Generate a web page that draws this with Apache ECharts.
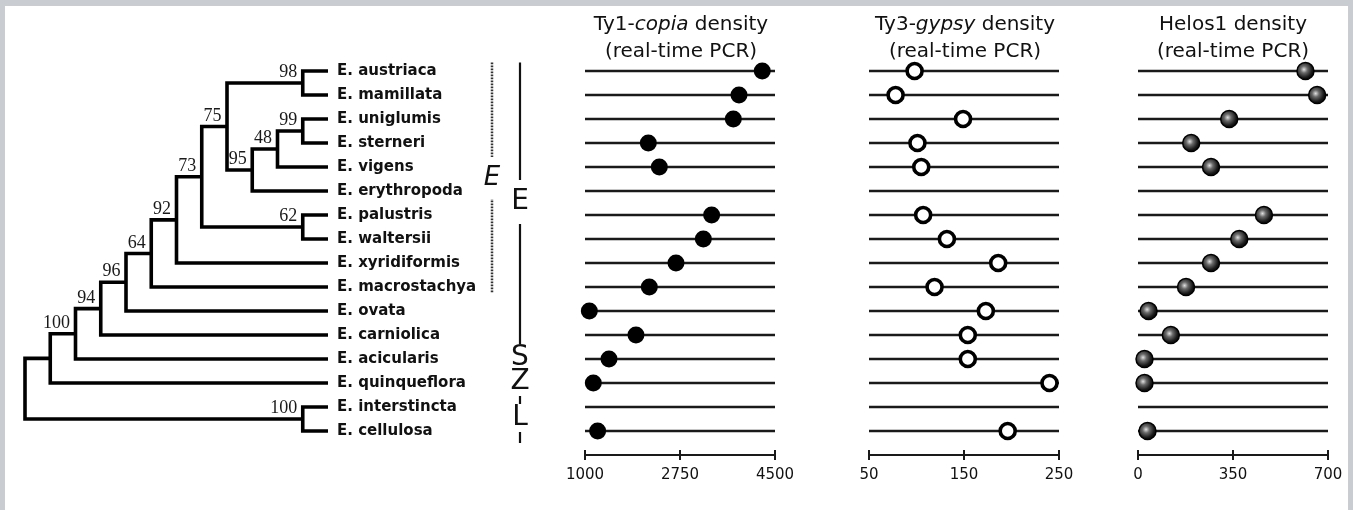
<!DOCTYPE html>
<html><head><meta charset="utf-8">
<script src="https://cdn.jsdelivr.net/npm/echarts@6/dist/echarts.min.js"></script>
<style>html,body{margin:0;padding:0;background:#fff}#c{width:1353px;height:510px}</style>
</head><body><div id="c"></div>
<script>
// ---------------- data ----------------
const species = ['E. austriaca','E. mamillata','E. uniglumis','E. sterneri','E. vigens','E. erythropoda','E. palustris','E. waltersii','E. xyridiformis','E. macrostachya','E. ovata','E. carniolica','E. acicularis','E. quinqueflora','E. interstincta','E. cellulosa'];
const copiaDensity = [4265,3837,3732,2166,2369,null,3333,3180,2676,2185,1080,1939,1442,1153,null,1233];
const gypsyDensity = [98,78,149,101,105,null,107,132,186,119,173,154,154,240,null,196];
const helosDensity = [617,660,336,196,269,null,464,373,269,177,39,121,24,24,null,35];
const copiaTicks = [1000,2750,4500];
const gypsyTicks = [50,150,250];
const helosTicks = [0,350,700];
const treeNewick = '(((((((((' +
  '(E. austriaca,E. mamillata)98,(((E. uniglumis,E. sterneri)99,E. vigens)48,E. erythropoda)95)75' +
  ',(E. palustris,E. waltersii)62)73' +
  ',E. xyridiformis)92' +
  ',E. macrostachya)64' +
  ',E. ovata)96' +
  ',E. carniolica)94' +
  ',E. acicularis)100' +
  ',E. quinqueflora)' +
  ',(E. interstincta,E. cellulosa)100)';
const cladeGroups = [
  {label:'E', from:'E. austriaca', to:'E. carniolica'},
  {label:'S', from:'E. acicularis', to:'E. acicularis'},
  {label:'Z', from:'E. quinqueflora', to:'E. quinqueflora'},
  {label:'L', from:'E. interstincta', to:'E. cellulosa'}
];
const subClade = {label:'E', from:'E. austriaca', to:'E. macrostachya'};

// ---------------- tree layout (topology only) ----------------
function parseNewick(s){
  let i = 0;
  function node(){
    if (s[i] === '('){
      i++;
      const ch = [node()];
      while (s[i] === ','){ i++; ch.push(node()); }
      i++;
      let lab = '';
      while (i < s.length && !',()'.includes(s[i])) lab += s[i++];
      return {children: ch, label: lab};
    }
    let name = '';
    while (i < s.length && !',()'.includes(s[i])) name += s[i++];
    return {name: name};
  }
  return node();
}
const treeRoot = parseNewick(treeNewick);
function calcH(n){ n.h = n.children ? Math.max(...n.children.map(calcH)) + 1 : 0; return n.h; }
const H = calcH(treeRoot);
const internalNodes = [];
function place(n){
  n.x = H - n.h;
  if (n.children){
    n.children.forEach(place);
    n.y = (n.children[0].y + n.children[n.children.length-1].y) / 2;
    internalNodes.push(n);
  } else {
    n.y = species.indexOf(n.name);
  }
}
place(treeRoot);

// ---------------- styling constants ----------------
const TOP = 71, HEIGHT = 360;
const SOLID_X = 520, DOTTED_X = 492;
const INK = '#111';
const SANS = 'DejaVu Sans';

function scatterData(vals){
  return species.map((s,i) => vals[i] == null ? null : [vals[i], s]).filter(Boolean);
}

const chart = echarts.init(document.getElementById('c'), null, {renderer: 'canvas'});

function pyOf(api, f){
  const a = Math.floor(f), b = Math.ceil(f);
  const ya = api.coord([0, a])[1], yb = api.coord([0, b])[1];
  return ya + (yb - ya) * (f - a);
}

function panelY(idx){
  return {
    type: 'category', gridIndex: idx, data: species, inverse: true, boundaryGap: false,
    axisLine: {show: false}, axisTick: {show: false}, axisLabel: {show: false, interval: 0},
    splitLine: {show: true, interval: 0, lineStyle: {color: '#1a1a1a', width: 2.4}}
  };
}
function panelX(grid, min, max, ticks){
  return [{
    type: 'value', gridIndex: grid, min: min, max: max, position: 'bottom', offset: 24,
    axisLine: {show: true, lineStyle: {color: '#1a1a1a', width: 2.2}},
    axisTick: {show: true, customValues: ticks, length: 5, lineStyle: {color: '#1a1a1a', width: 2}},
    axisLabel: {show: true, customValues: ticks, margin: 13, fontFamily: SANS, fontSize: 15, color: INK,
                formatter: v => String(v)},
    splitLine: {show: false}
  }, {
    type: 'value', gridIndex: grid, min: min, max: max, position: 'top', offset: -(HEIGHT + 24),
    axisLine: {show: false},
    axisTick: {show: true, customValues: ticks, length: 5, lineStyle: {color: '#1a1a1a', width: 2}},
    axisLabel: {show: false},
    splitLine: {show: false}
  }];
}
function titleRich(text, x){
  return {
    text: text, left: x, top: 11, padding: 0, textAlign: 'center',
    textStyle: {
      fontWeight: 'normal',
      rich: {
        n: {fontFamily: SANS, fontSize: 20, lineHeight: 27, color: INK, fontWeight: 'normal'},
        i: {fontFamily: SANS, fontSize: 20, lineHeight: 27, color: INK, fontWeight: 'normal', fontStyle: 'italic'}
      }
    }
  };
}

const helosGradient = new echarts.graphic.RadialGradient(0.42, 0.42, 0.62, [
  {offset: 0, color: '#e0e0e0'}, {offset: 0.3, color: '#6a6a6a'},
  {offset: 0.7, color: '#1a1a1a'}, {offset: 1, color: '#000'}
]);

const option = {
  animation: false,
  backgroundColor: '#fff',
  graphic: [
    {type: 'rect', shape: {x: 0, y: 0, width: 1353, height: 6}, style: {fill: '#c9ccd0'}, z: 100},
    {type: 'rect', shape: {x: 0, y: 0, width: 5, height: 510}, style: {fill: '#c9ccd0'}, z: 100},
    {type: 'rect', shape: {x: 1348, y: 0, width: 5, height: 510}, style: {fill: '#c9ccd0'}, z: 100}
  ],
  title: [
    titleRich('{n|Ty1-}{i|copia}{n| density}\n{n|(real-time PCR)}', 681),
    titleRich('{n|Ty3-}{i|gypsy}{n| density}\n{n|(real-time PCR)}', 965),
    titleRich('{n|Helos1 density}\n{n|(real-time PCR)}', 1233)
  ],
  grid: [
    {left: 25, top: TOP, width: 303, height: HEIGHT},
    {left: 585, top: TOP, width: 190, height: HEIGHT},
    {left: 869, top: TOP, width: 190, height: HEIGHT},
    {left: 1138, top: TOP, width: 190, height: HEIGHT}
  ],
  xAxis: [
    {type: 'value', gridIndex: 0, min: 0, max: H, show: false},
    ...panelX(1, copiaTicks[0], copiaTicks[copiaTicks.length-1], copiaTicks),
    ...panelX(2, gypsyTicks[0], gypsyTicks[gypsyTicks.length-1], gypsyTicks),
    ...panelX(3, helosTicks[0], helosTicks[helosTicks.length-1], helosTicks)
  ],
  yAxis: [
    {
      type: 'category', gridIndex: 0, data: species, inverse: true, boundaryGap: false, position: 'right',
      axisLine: {show: false}, axisTick: {show: false}, splitLine: {show: false},
      axisLabel: {interval: 0, margin: 9, fontFamily: SANS, fontWeight: 'bold', fontSize: 15, color: INK, padding: [4, 0, 0, 0]}
    },
    panelY(1), panelY(2), panelY(3)
  ],
  series: [
    {
      type: 'custom', name: 'tree', xAxisIndex: 0, yAxisIndex: 0, clip: false, silent: true,
      data: internalNodes.map(n => [n.x, Math.round(n.y)]),
      renderItem: function(params, api){
        const n = internalNodes[params.dataIndex];
        const c1 = n.children[0], c2 = n.children[n.children.length-1];
        const px = v => api.coord([v, 0])[0];
        const nx = px(n.x), ny = pyOf(api, n.y);
        const y1 = pyOf(api, c1.y), y2 = pyOf(api, c2.y);
        const kids = [{
          type: 'polyline',
          shape: {points: [[px(c1.x), y1], [nx, y1], [nx, y2], [px(c2.x), y2]]},
          style: {stroke: '#000', lineWidth: 3.6, fill: null, lineJoin: 'miter'}
        }];
        if (n.label){
          kids.push({
            type: 'text',
            style: {x: nx - 5.5, y: ny - 10.5, text: n.label, align: 'right', verticalAlign: 'middle',
                    fontFamily: 'Liberation Serif', fontSize: 18, fill: '#1a1a1a'}
          });
        }
        return {type: 'group', children: kids};
      }
    },
    {
      type: 'custom', name: 'clades', xAxisIndex: 0, yAxisIndex: 0, clip: false, silent: true,
      data: cladeGroups.map(g => [0, species.indexOf(g.from)]),
      renderItem: function(params, api){
        const g = cladeGroups[params.dataIndex];
        const i0 = species.indexOf(g.from), i1 = species.indexOf(g.to);
        const y0 = api.coord([0, i0])[1], y1 = api.coord([0, i1])[1];
        const step = api.coord([0, 1])[1] - api.coord([0, 0])[1];
        const top = params.dataIndex === 0 ? y0 - 0.35 * step : y0 - 0.5 * step;
        const bot = y1 + 0.5 * step;
        const big = (i1 - i0) > 2;
        return {type: 'group', children: [
          {type: 'line', shape: {x1: SOLID_X, y1: top, x2: SOLID_X, y2: bot}, style: {stroke: '#111', lineWidth: 2.2}, z2: 0},
          {type: 'text', z2: 10, style: {x: SOLID_X, y: (y0 + y1) / 2 - 1, text: g.label, align: 'center', verticalAlign: 'middle',
            fontFamily: SANS, fontSize: 28, lineHeight: 28, fill: INK, backgroundColor: '#fff', padding: big ? [8, 0] : [0, 0]}}
        ]};
      }
    },
    {
      type: 'custom', name: 'subclade', xAxisIndex: 0, yAxisIndex: 0, clip: false, silent: true,
      data: [[0, species.indexOf(subClade.from)]],
      renderItem: function(params, api){
        const i0 = species.indexOf(subClade.from), i1 = species.indexOf(subClade.to);
        const y0 = api.coord([0, i0])[1], y1 = api.coord([0, i1])[1];
        const step = api.coord([0, 1])[1] - api.coord([0, 0])[1];
        return {type: 'group', children: [
          {type: 'line', shape: {x1: DOTTED_X, y1: y0 - 0.35 * step, x2: DOTTED_X, y2: y1 + 0.25 * step},
           style: {stroke: '#333', lineWidth: 2.5, lineDash: [1.6, 1.4]}, z2: 0},
          {type: 'text', z2: 10, style: {x: DOTTED_X, y: (y0 + y1) / 2 - 1, text: subClade.label, align: 'center', verticalAlign: 'middle',
            fontFamily: SANS, fontSize: 26, lineHeight: 26, fontStyle: 'italic', fill: INK, backgroundColor: '#fff', padding: [8, 0]}}
        ]};
      }
    },
    {
      type: 'scatter', name: 'Ty1-copia', xAxisIndex: 1, yAxisIndex: 1, clip: false,
      symbol: 'circle', symbolSize: 17, itemStyle: {color: '#000', opacity: 1},
      data: scatterData(copiaDensity)
    },
    {
      type: 'scatter', name: 'Ty3-gypsy', xAxisIndex: 3, yAxisIndex: 2, clip: false,
      symbol: 'circle', symbolSize: 15, itemStyle: {color: '#fff', borderColor: '#000', borderWidth: 3.6, opacity: 1},
      data: scatterData(gypsyDensity)
    },
    {
      type: 'scatter', name: 'Helos1', xAxisIndex: 5, yAxisIndex: 3, clip: false,
      symbol: 'circle', symbolSize: 17, itemStyle: {color: helosGradient, borderColor: '#000', borderWidth: 1.5, opacity: 1},
      data: scatterData(helosDensity)
    }
  ]
};
chart.setOption(option);
</script>
</body></html>
